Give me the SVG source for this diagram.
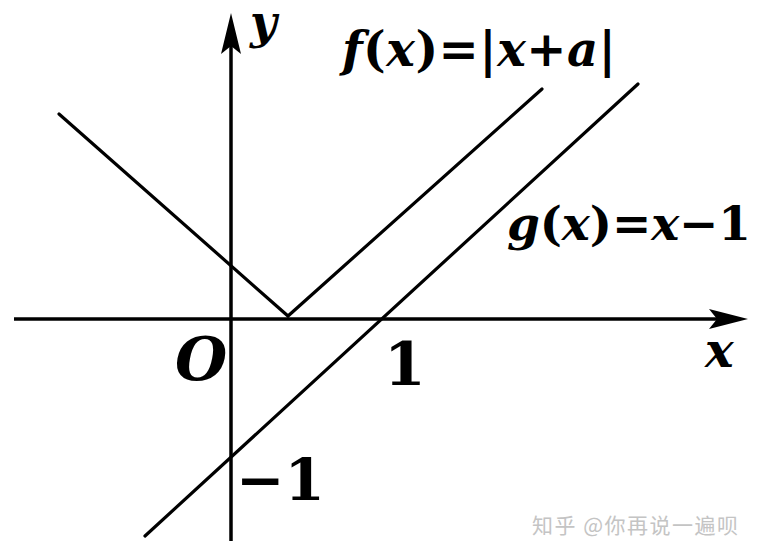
<svg xmlns="http://www.w3.org/2000/svg" width="758" height="556" viewBox="0 0 758 556">
<style>
.ax{stroke:#000;stroke-width:3.5;fill:none}
.ln{stroke:#000;stroke-width:3.2;fill:none;stroke-linecap:round;stroke-linejoin:miter}
.i{font-style:italic}
.wm{fill:#c4c4c4}
</style>
<rect width="758" height="556" fill="#fff"/>
<g id="connectors">
  <g id="x-axis">
    <line class="ax" x1="14" y1="319" x2="722" y2="319"/>
    <path d="M748,319 L709,309 L717,319 L709,329 Z" fill="#000"/>
  </g>
  <g id="y-axis">
    <line class="ax" x1="231" y1="541" x2="231" y2="40"/>
    <path d="M231,13 L221,54 L231,46 L241,54 Z" fill="#000"/>
  </g>
  <g id="f-graph">
    <polyline class="ln" points="59,114 288,316 542,89"/>
  </g>
  <g id="g-graph">
    <line class="ln" x1="145" y1="536" x2="638" y2="84"/>
  </g>
</g>
<g id="label-y"><text class="i" x="250" y="38" font-size="46" font-family="DejaVu Serif" font-weight="bold" fill="#000">y</text></g>
<g id="label-x"><text class="i" x="705" y="367" font-size="48" font-family="DejaVu Serif" font-weight="bold" fill="#000">x</text></g>
<g id="label-O"><text class="i" x="175" y="380" font-size="60" font-family="DejaVu Serif" font-weight="bold" fill="#000">O</text></g>
<g id="label-1"><text x="384" y="385" font-size="60" font-family="DejaVu Serif" font-weight="bold" fill="#000">1</text></g>
<g id="label-m1"><text x="236" y="500" font-size="58" font-family="DejaVu Serif" font-weight="bold" fill="#000">−1</text></g>
<g id="label-f">
  <text x="342" y="66" font-size="48" font-family="DejaVu Serif" font-weight="bold" fill="#000" textLength="274" lengthAdjust="spacing"><tspan class="i">f</tspan>(<tspan class="i">x</tspan>)=|<tspan class="i">x</tspan>+<tspan class="i">a</tspan>|</text>
</g>
<g id="label-g">
  <text x="507" y="240" font-size="47" font-family="DejaVu Serif" font-weight="bold" fill="#000" textLength="244" lengthAdjust="spacing"><tspan class="i">g</tspan>(<tspan class="i">x</tspan>)=<tspan class="i">x</tspan>−1</text>
</g>
<g id="watermark"><text class="wm" x="532" y="533" font-size="21" font-family="Noto Sans CJK SC, sans-serif" textLength="206" lengthAdjust="spacing">知乎 @你再说一遍呗</text></g>
</svg>
